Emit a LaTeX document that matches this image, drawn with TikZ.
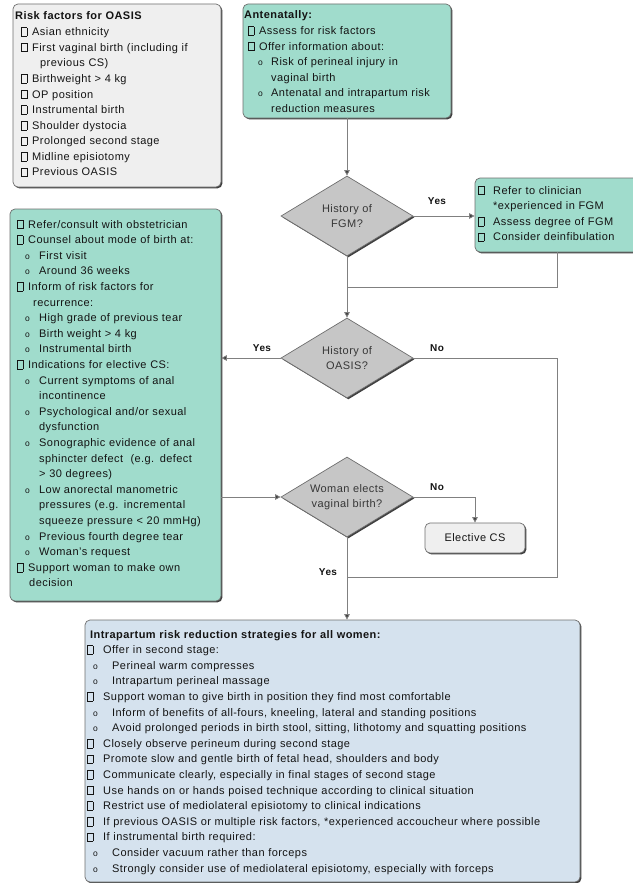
\documentclass[tikz,border=0pt]{standalone}
\usepackage{fontspec}
\setmainfont{Liberation Sans}[LetterSpace=4]
\usetikzlibrary{shapes.geometric,arrows.meta,shadows,fit}

\definecolor{tealfill}{RGB}{160,220,204}
\definecolor{greyfill}{RGB}{239,239,239}
\definecolor{bluefill}{RGB}{213,226,238}
\definecolor{diafill}{RGB}{198,198,198}
\definecolor{edge}{RGB}{110,110,110}
\definecolor{shade}{RGB}{64,64,64}
\definecolor{wire}{RGB}{128,128,128}
\definecolor{ink}{RGB}{20,20,20}

% hollow square bullet
\newcommand\sqbox{{\setlength{\fboxsep}{0pt}\setlength{\fboxrule}{0.55pt}%
  \raisebox{-0.3pt}{\fbox{\rule{0pt}{8pt}\rule{5pt}{0pt}}}}}
% small open circle bullet
\newcommand\circb{{\fontsize{8.5}{8.5}\selectfont o}}

% indents: glyph, text, continuation, circle, subtext
\def\gind{0pt}\def\tind{15pt}\def\cind{15pt}\def\oind{8pt}\def\sind{24pt}
% each item is one paragraph with a hanging indent
\newcommand\itb[2][\cind]{\noindent\hangindent=#1\hangafter=1
  \hspace*{\gind}\makebox[\dimexpr\tind-\gind\relax][l]{\sqbox}#2\par}
\newcommand\itc[1]{\noindent\hangindent=\sind\hangafter=1
  \hspace*{\oind}\makebox[\dimexpr\sind-\oind\relax][l]{\circb}#1\par}

\tikzset{
  x=1pt, y=-1pt,
  panel/.style={draw=edge, line width=0.7pt, rounded corners=5pt, inner sep=0pt,
    drop shadow={shadow xshift=1.4pt, shadow yshift=-1.4pt, fill=shade, opacity=1}},
  tealbox/.style={panel, fill=tealfill},
  greybox/.style={panel, fill=greyfill},
  bluebox/.style={panel, fill=bluefill},
  textblock/.style={anchor=base west, inner sep=0pt, text width=#1, align=left,
    text=ink, font=\fontsize{11}{15.6}\selectfont},
  dia/.style={diamond, aspect=1.7, draw=edge, line width=0.7pt, fill=diafill,
    minimum width=132pt, minimum height=80pt, inner sep=0pt, align=center,
    text=ink!85, font=\fontsize{11}{15}\selectfont,
    drop shadow={shadow xshift=1.4pt, shadow yshift=-1.4pt, fill=shade, opacity=1}},
  conn/.style={draw=wire, line width=0.8pt},
  arr/.style={conn, -{Triangle[width=5.5pt,length=5.5pt,fill=shade]}},
  lbl/.style={font=\bfseries\fontsize{10}{10}\selectfont, text=ink, inner sep=0pt},
}

\begin{document}
\begin{tikzpicture}
\useasboundingbox (0,0) rectangle (632,883);

% ---------- boxes ----------
\node[greybox, fit={(13,4) (221,187)}] (risk) {};
\node[textblock=200pt] (risktxt) at (15,20) {%
  \def\gind{6pt}\def\tind{17pt}%
  \textbf{Risk factors for OASIS}\par
  \itb{Asian ethnicity}
  \itb[25pt]{First vaginal birth (including if\newline previous CS)}
  \itb{Birthweight > 4 kg}
  \itb{OP position}
  \itb{Instrumental birth}
  \itb{Shoulder dystocia}
  \itb{Prolonged second stage}
  \itb{Midline episiotomy}
  \itb{Previous OASIS}};

\node[tealbox, fit={(243,4) (451,118)}] (ante) {};
\node[textblock=205pt] (antetxt) at (244,19) {%
  \def\gind{4pt}\def\tind{15pt}\def\oind{14pt}\def\sind{27pt}%
  \textbf{Antenatally:}\par
  \itb{Assess for risk factors}
  \itb{Offer information about:}
  \itc{Risk of perineal injury in\newline vaginal birth}
  \itc{Antenatal and intrapartum risk\newline reduction measures}};

\node[tealbox, fit={(475,178) (640,252)}] (fgmact) {};
\node[textblock=170pt] (fgmtxt) at (478,194) {%
  \itb{Refer to clinician\newline *experienced in FGM}
  \itb{Assess degree of FGM}
  \itb{Consider deinfibulation}};

\node[tealbox, fit={(10,209) (221,601)}] (recur) {};
\node[textblock=215pt] (recurtxt) at (13,228) {%
  \def\gind{4pt}\def\tind{15pt}\def\oind{12pt}\def\sind{26pt}%
  \itb{Refer/consult with obstetrician}
  \itb{Counsel about mode of birth at:}
  \itc{First visit}
  \itc{Around 36 weeks}
  \itb[20pt]{Inform of risk factors for\newline recurrence:}
  \itc{High grade of previous tear}
  \itc{Birth weight > 4 kg}
  \itc{Instrumental birth}
  \itb{Indications for elective CS:}
  \itc{Current symptoms of anal\newline incontinence}
  \itc{Psychological and/or sexual\newline dysfunction}
  \itc{Sonographic evidence of anal\newline sphincter defect\ \ (e.g. defect\newline > 30 degrees)}
  \itc{Low anorectal manometric\newline pressures (e.g. incremental\newline squeeze pressure < 20 mmHg)}
  \itc{Previous fourth degree tear}
  \itc{Woman’s request}
  \itb[16pt]{Support woman to make own\newline decision}};

\node[greybox, fit={(425,523) (525,553)}] (elective) {};
\node[inner sep=0pt, text=ink, font=\fontsize{11}{13}\selectfont] (electxt)
  at (elective.center) {Elective CS};

\node[bluebox, fit={(85,620) (580,882)}] (intra) {};
\node[textblock=490pt] (intratxt) at (87,638) {%
  \def\gind{0pt}\def\tind{16pt}\def\oind{6pt}\def\sind{25pt}%
  \hspace*{3pt}\textbf{Intrapartum risk reduction strategies for all women:}\par
  \itb{Offer in second stage:}
  \itc{Perineal warm compresses}
  \itc{Intrapartum perineal massage}
  \itb{Support woman to give birth in position they find most comfortable}
  \itc{Inform of benefits of all-fours, kneeling, lateral and standing positions}
  \itc{Avoid prolonged periods in birth stool, sitting, lithotomy and squatting positions}
  \itb{Closely observe perineum during second stage}
  \itb{Promote slow and gentle birth of fetal head, shoulders and body}
  \itb{Communicate clearly, especially in final stages of second stage}
  \itb{Use hands on or hands poised technique according to clinical situation}
  \itb{Restrict use of mediolateral episiotomy to clinical indications}
  \itb{If previous OASIS or multiple risk factors, *experienced accoucheur where possible}
  \itb{If instrumental birth required:}
  \itc{Consider vacuum rather than forceps}
  \itc{Strongly consider use of mediolateral episiotomy, especially with forceps}};

% ---------- decisions ----------
\node[dia] (fgm) at (347,216) {History of\\FGM?};
\node[dia] (oasis) at (347,358) {History of\\OASIS?};
\node[dia] (woman) at (347,497) {Woman elects\\vaginal birth?};

% ---------- connectors ----------
\coordinate (j1) at (347,287);
\coordinate (j2) at (557,577);

\draw[arr] (ante.south -| fgm.north) -- (fgm.north);
\draw[arr] (fgm.east) -- (fgm.east -| fgmact.west);
\draw[conn] (fgmact.south) |- (j1);
\draw[arr] (fgm.south) -- (oasis.north);
\draw[arr] (oasis.west) -- (oasis.west -| recur.east);
\draw[conn] (oasis.east) -| (j2) -- (woman.south |- j2);
\draw[arr] (recur.east |- woman.west) -- (woman.west);
\draw[arr] (woman.east) -| (elective.north);
\draw[arr] (woman.south) -- (woman.south |- intra.north);

% ---------- branch labels ----------
\node[lbl] (l1) at (437,201) {Yes};
\node[lbl] (l2) at (262,348) {Yes};
\node[lbl] (l3) at (437,348) {No};
\node[lbl] (l4) at (437,487) {No};
\node[lbl] (l5) at (328,572) {Yes};
\end{tikzpicture}
\end{document}
